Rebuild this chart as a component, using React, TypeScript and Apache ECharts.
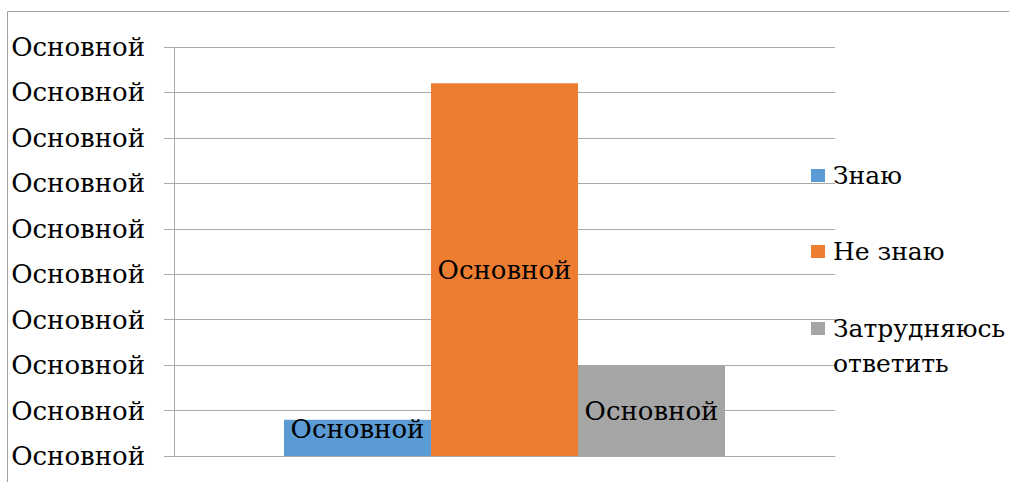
import React, { useEffect, useRef } from 'react';
import * as echarts from 'echarts';

const categories = [''];
const seriesNames = ['Знаю', 'Не знаю', 'Затрудняюсь ответить'];
const seriesValues = [8, 82, 20];
const seriesColors = ['#5b9bd5', '#ed7d31', '#a5a5a5'];
const yTickLabels = [
  'Основной', 'Основной', 'Основной', 'Основной', 'Основной',
  'Основной', 'Основной', 'Основной', 'Основной', 'Основной',
];
const barLabelText = 'Основной';

const FONT = 'DejaVu Serif';
const FS = 26;
const GRID_COLOR = '#ababab';

export default function App() {
  const ref = useRef<HTMLDivElement>(null);
  useEffect(() => {
    if (!ref.current) return;
    const chart = echarts.init(ref.current, undefined, { renderer: 'svg' });
    const legendTops = [158, 234, 311];
    const legendGraphics: any[] = [];
    seriesNames.forEach((name, i) => {
      legendGraphics.push({
        type: 'rect',
        shape: { x: 811, y: legendTops[i] + 17.5 - 6.5, width: 14, height: 13 },
        style: { fill: seriesColors[i] },
        z: 10,
      });
      legendGraphics.push({
        type: 'text',
        x: 833,
        y: legendTops[i],
        style: {
          text: name.length > 12 ? name.replace(' ', '\n') : name,
          fill: '#000',
          fontFamily: FONT,
          fontSize: 25,
          lineHeight: 35,
          verticalAlign: 'top',
          align: 'left',
        },
        z: 10,
      });
    });
    chart.setOption({
      animation: false,
      backgroundColor: '#fff',
      textStyle: { fontFamily: FONT },
      grid: { left: 174, right: 174, top: 47, bottom: 26, containLabel: false },
      xAxis: {
        type: 'category',
        data: categories,
        axisLine: { show: true, lineStyle: { color: GRID_COLOR, width: 1 } },
        axisTick: { show: false },
        axisLabel: { show: false },
        splitLine: { show: false },
      },
      yAxis: {
        type: 'value',
        min: 0,
        max: 90,
        interval: 10,
        axisLine: { show: true, lineStyle: { color: GRID_COLOR, width: 1 } },
        axisTick: { show: true, length: 10, inside: false, lineStyle: { color: GRID_COLOR } },
        axisLabel: {
          margin: 29,
          color: '#000',
          fontFamily: FONT,
          fontSize: FS,
          formatter: (v: number) => yTickLabels[Math.round(v / 10)] ?? '',
        },
        splitLine: { show: true, lineStyle: { color: GRID_COLOR, width: 1 } },
      },
      series: seriesNames.map((name, i) => ({
        name,
        type: 'bar',
        data: [seriesValues[i]],
        barWidth: 147,
        barGap: '0%',
        itemStyle: { color: seriesColors[i] },
        label: {
          show: true,
          position: 'inside',
          offset: i === 0 ? [0, -9] : [0, 0],
          formatter: () => barLabelText,
          color: '#000',
          fontFamily: FONT,
          fontSize: FS,
        },
      })),
      graphic: [
        {
          type: 'polyline',
          shape: { points: [[7.5, 482], [7.5, 11.5], [1009, 11.5]] },
          style: { stroke: '#a0a0a0', lineWidth: 1, fill: 'none' },
          silent: true,
        },
        ...legendGraphics,
      ],
    });
    return () => chart.dispose();
  }, []);
  return (
    <div
      ref={ref}
      style={{ position: 'fixed', left: 0, top: 0, width: 1009, height: 482 }}
    />
  );
}
